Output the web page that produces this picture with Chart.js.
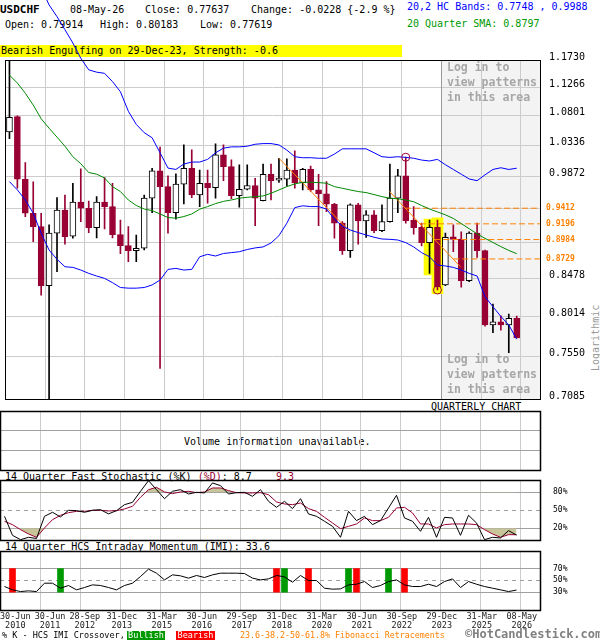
<!DOCTYPE html>
<html><head><meta charset="utf-8">
<script src="https://cdn.jsdelivr.net/npm/chart.js"></script>
<style>
html,body{margin:0;padding:0;background:#fff;}
body{width:600px;height:640px;position:relative;overflow:hidden;font-family:'DejaVu Sans Mono',monospace;font-size:10px;color:#000;}
.t{position:absolute;white-space:pre;line-height:10px;}
canvas{position:absolute;left:0;z-index:1;}
.top{z-index:3;}
</style></head><body>
<div class="t" style="left:0;top:4px;font-weight:bold;font-size:11px;line-height:11px">USDCHF</div>
<div class="t" style="left:70px;top:4.5px">08-May-26</div>
<div class="t" style="left:145px;top:4.5px">Close: 0.77637</div>
<div class="t" style="left:251px;top:4.5px">Change: -0.0228 {-2.9 %}</div>
<div class="t" style="left:5px;top:19.5px">Open: 0.79914</div>
<div class="t" style="left:100px;top:19.5px">High: 0.80183</div>
<div class="t" style="left:200px;top:19.5px">Low: 0.77619</div>
<div class="t" style="left:407px;top:1.5px;color:#0000ff">20,2 HC Bands: 0.7748 , 0.9988</div>
<div class="t" style="left:407px;top:18.5px;color:#009900">20 Quarter SMA: 0.8797</div>
<div class="t" style="left:0;top:45px;width:401px;height:12px;line-height:12px;background:#ffff00;padding-left:1px">Bearish Engulfing on 29-Dec-23, Strength: -0.6</div>
<div class="t" style="left:431px;top:401.5px">QUARTERLY CHART</div>
<div class="t" style="left:184px;top:436.5px">Volume information unavailable.</div>
<div class="t" style="left:5px;top:471.5px">14 Quarter Fast Stochastic (%K) <span style="color:#990033">(%D)</span>: 8.7    <span style="color:#990033">9.3</span></div>
<div class="t" style="left:5px;top:542px">14 Quarter HCS Intraday Momentum (IMI): 33.6</div>
<div class="t" style="left:563px;top:333px;width:66px;text-align:center;transform:rotate(-90deg);color:#999">Logarithmic</div>

<canvas id="cMain" width="600" height="412" style="top:0"></canvas>
<canvas id="cVol" width="600" height="64" style="top:408px"></canvas>
<canvas id="cSto" width="600" height="64" style="top:478px"></canvas>
<canvas id="cImi" width="600" height="92" style="top:548px"></canvas>

<div class="t top" style="left:447px;top:60px;font-weight:bold;font-size:11.5px;line-height:15px;color:#a6a6a6">Log in to
view patterns
in this area</div>
<div class="t top" style="left:447px;top:352px;font-weight:bold;font-size:11.5px;line-height:15px;color:#a6a6a6">Log in to
view patterns
in this area</div>
<div class="t top" style="left:2px;top:630.5px;font-size:8.5px;line-height:9px">% K - HCS IMI Crossover,</div>
<div class="t top" style="left:127px;top:630.5px;width:38px;height:9px;font-size:8.5px;line-height:9px;background:#009900;color:#fff;text-align:center">Bullish</div>
<div class="t top" style="left:176px;top:630.5px;width:39px;height:9px;font-size:8.5px;line-height:9px;background:#ff0000;color:#fff;text-align:center">Bearish</div>
<div class="t top" style="left:240px;top:630.5px;font-size:8.3px;line-height:9px;color:#ff8000">23.6-38.2-50-61.8% Fibonacci Retracements</div>
<div class="t top" style="left:465px;top:628px;font-size:12px;line-height:12px;font-weight:bold;color:#808080">&copy;HotCandlestick.com</div>

<script>
// ---------------- DATA ----------------
const opens = [1.0542, 1.0784, 0.9826, 0.9342, 0.9158, 0.8389, 0.9069, 0.9387, 0.9030, 0.9497,
 0.9412, 0.9145, 0.9497, 0.9435, 0.9050, 0.8903, 0.8837, 0.8869, 0.9553, 0.9948,
 0.9719, 0.9350, 0.9754, 0.9988, 0.9599, 0.9768, 0.9704, 1.0188, 1.0012, 0.9589,
 0.9681, 0.9735, 0.9517, 0.9899, 0.9813, 0.9827, 0.9962, 0.9771, 0.9973, 0.9671,
 0.9617, 0.9468, 0.9205, 0.8837, 0.9458, 0.9235, 0.9319, 0.9104, 0.9227, 0.9553,
 0.9874, 0.9249, 0.9150, 0.8943, 0.9150, 0.8398, 0.9020, 0.8987, 0.8452, 0.9069,
 0.8837, 0.7913, 0.7950, 0.7913, 0.79914];
const highs = [1.1730, 1.0795, 1.0071, 0.9787, 0.9342, 0.9181, 0.9561, 0.9599, 0.9768, 0.9978,
 0.9511, 0.9575, 0.9850, 0.9768, 0.9249, 0.9158, 0.9045, 0.9599, 0.9988, 1.0305,
 0.9874, 0.9905, 1.0340, 1.0263, 0.9962, 0.9962, 1.0355, 1.0340, 1.0112, 1.0038,
 1.0038, 0.9841, 1.0050, 1.0050, 1.0137, 1.0127, 1.0249, 0.9988, 1.0019, 0.9899,
 0.9791, 0.9482, 0.9227, 0.9472, 0.9482, 0.9378, 0.9378, 0.9458, 1.0050, 0.9973,
 1.0153, 0.9435, 0.9205, 0.9249, 0.9249, 0.9069, 0.9181, 0.9088, 0.9088, 0.9205,
 0.8845, 0.8164, 0.8020, 0.8043, 0.80183];
const lows = [1.0437, 0.9696, 0.9295, 0.8956, 0.8270, 0.7067, 0.8565, 0.8921, 0.9001, 0.9227,
 0.9077, 0.9007, 0.9126, 0.9007, 0.8797, 0.8694, 0.8694, 0.8845, 0.9350, 0.7420,
 0.9069, 0.9260, 0.9472, 0.9561, 0.9435, 0.9482, 0.9553, 0.9805, 0.9545, 0.9426,
 0.9671, 0.9171, 0.9514, 0.9528, 0.9778, 0.9728, 0.9696, 0.9671, 0.9648, 0.9171,
 0.9364, 0.9001, 0.8789, 0.8750, 0.8921, 0.9012, 0.9077, 0.9088, 0.9220, 0.9350,
 0.9205, 0.9057, 0.8899, 0.8544, 0.8335, 0.8390, 0.8823, 0.8370, 0.8439, 0.8750,
 0.7900, 0.7824, 0.7853, 0.7595, 0.77619];
const closes = [1.0774, 0.9826, 0.9342, 0.9158, 0.8389, 0.9069, 0.9387, 0.9023, 0.9497, 0.9412,
 0.9145, 0.9497, 0.9435, 0.9050, 0.8903, 0.8837, 0.8869, 0.9553, 0.9948, 0.9719,
 0.9350, 0.9754, 0.9988, 0.9599, 0.9768, 0.9704, 1.0188, 1.0012, 0.9589, 0.9681,
 0.9735, 0.9553, 0.9899, 0.9805, 0.9827, 0.9962, 0.9771, 0.9973, 0.9671, 0.9617,
 0.9468, 0.9205, 0.8837, 0.9458, 0.9235, 0.9319, 0.9104, 0.9227, 0.9553, 0.9874,
 0.9240, 0.9145, 0.8943, 0.9150, 0.8378, 0.9015, 0.8987, 0.8452, 0.9069, 0.8837,
 0.7913, 0.7950, 0.7913, 0.7991, 0.77637];
const upperBand = [null, null, null, null, 1.3057, 1.273, 1.251, 1.227, 1.203, 1.176,
 1.156, 1.152, 1.150, 1.136, 1.119, 1.087, 1.066, 1.053, 1.045, 1.022,
 0.999, 0.997, 1.005, 1.008, 1.008, 1.012, 1.022, 1.029, 1.031, 1.031,
 1.032, 1.035, 1.036, 1.036, 1.034, 1.026, 1.016, 1.0145, 1.0145, 1.0137,
 1.0137, 1.020, 1.028, 1.028, 1.028, 1.028, 1.022, 1.016, 1.015, 1.016,
 1.015, 1.0137, 1.011, 1.0096, 1.012, 1.004, 0.997, 0.990, 0.983, 0.9805,
 0.989, 0.997, 0.9995, 0.997, 0.9988];
const lowerBand = [0.9791, 0.9671, 0.9528, 0.9342, 0.9069, 0.8845, 0.8724, 0.8628, 0.8620, 0.8586,
 0.8544, 0.8510, 0.8481, 0.8427, 0.8366, 0.8358, 0.8358, 0.8366, 0.8398, 0.8459,
 0.8594, 0.8607, 0.8586, 0.8594, 0.8757, 0.8789, 0.8767, 0.8800, 0.8811, 0.8823,
 0.8852, 0.8873, 0.8886, 0.8938, 0.9036, 0.9205, 0.9420, 0.9446, 0.9435, 0.9435,
 0.9400, 0.9260, 0.9165, 0.9112, 0.9077, 0.9045, 0.9015, 0.8991, 0.8987, 0.8978,
 0.8943, 0.8886, 0.8811, 0.8757, 0.8650, 0.8638, 0.8620, 0.8586, 0.8544, 0.8510,
 0.8253, 0.8131, 0.8014, 0.7913, 0.7748];
const sma20 = [1.147, 1.1335, 1.1165, 1.097, 1.075, 1.060, 1.046, 1.032, 1.016, 1.0055,
 0.9925, 0.990, 0.9844, 0.9719, 0.9648, 0.9528, 0.9450, 0.9401, 0.9378, 0.9332,
 0.9282, 0.9274, 0.9296, 0.9332, 0.9398, 0.9435, 0.9477, 0.9508, 0.9528, 0.9553,
 0.9566, 0.9575, 0.9585, 0.9623, 0.9671, 0.9719, 0.9758, 0.9782, 0.9782, 0.9777,
 0.9768, 0.9719, 0.9695, 0.9671, 0.9648, 0.9633, 0.9605, 0.9575, 0.9553, 0.9545,
 0.9528, 0.9503, 0.9450, 0.9400, 0.9360, 0.9320, 0.9270, 0.9200, 0.9130, 0.9060,
 0.9000, 0.8945, 0.8890, 0.8840, 0.8797];
const stochK = [40, 8.3, 1, 5, 3, 40, 46.7, 38.9, 50, 49.4,
 46.7, 50, 51, 44, 49.4, 59.4, 63.3, 81.7, 99.4, 84.4,
 69.4, 81.7, 84.4, 77.2, 80, 78.9, 95.6, 91.1, 77.2, 79.4,
 80, 73.3, 84.4, 65, 55, 65, 52.8, 69.4, 43.9, 40,
 31.7, 23.3, 5, 48.3, 32.8, 40, 26.1, 32.8, 53.9, 75,
 37.2, 31.7, 15, 38.3, 5, 38.3, 37.2, 8.3, 41.7, 28.9,
 1.1, 5, 3.9, 16.1, 8.7];
const stochD = [31.7, 26, 17.8, 10.6, 5, 20.6, 34.4, 41.7, 46, 48.3,
 48.3, 50, 50, 48.9, 49.4, 52.2, 56.7, 71.7, 84.4, 88.3,
 80.6, 77.8, 80.6, 81.7, 79.4, 80.6, 87.2, 87.2, 82.8, 79.4,
 78.9, 78.9, 79.4, 76, 63.9, 60.6, 59.4, 62.2, 52.8, 48.3,
 38.3, 28.9, 19.4, 23.3, 27.2, 37.2, 32.8, 32.8, 38.3, 53.9,
 55, 45.6, 27.2, 27.2, 20.6, 26.1, 27.2, 27.2, 27.2, 26.1,
 17.8, 10.6, 5, 9.4, 9.3];
const imi = [39.6, 34, 31.1, 32.3, 31.1, 45.2, 45.2, 36.8, 41.3, 34,
 37.9, 42.4, 41.3, 37.9, 34, 41.3, 45.2, 56.5, 68.9, 62.1,
 50.8, 59.3, 57.6, 53.7, 58.2, 54.8, 59.3, 62.1, 62.1, 62.1,
 61.5, 53.7, 50.8, 52.5, 58.2, 55.9, 46.9, 58.2, 49.7, 49.7,
 36.8, 35.1, 35.6, 42.4, 43.5, 48, 37.9, 41.3, 48, 50.8,
 42.4, 39.6, 39.6, 43.5, 39.6, 48, 52.5, 37.9, 48, 43.5,
 39.6, 36.8, 34, 31.1, 33.6];
const bullishIdx = [7, 35, 43, 48];
const bearishIdx = [1, 34, 38, 44, 50];
const crossRange = [30, 70];
const fibLevels = [0.9412, 0.9196, 0.8984, 0.8729];
const fibFrom = [49.9, 51.8, 53.6, 56.0];
const trendLine1 = [[34, 1.0137], [42.95, 0.9088]];
const trendLine2 = [[47.95, 0.9648], [56.9, 0.8628]];
const patternIdx = [53, 54];
const patternLow = [0.8525, 0.8290];
const patternHigh = [0.9260, 0.9280];
const markerIdx = [50, 54];
const markerPrice = [1.0153, 0.8335];
const shadeFrom = 54.5;
const yTickValues = [1.1730, 1.1266, 1.0801, 1.0336, 0.9872, 0.9407, 0.8943, 0.8478, 0.8014, 0.7550, 0.7085];
const yTickLabels = ['1.1730', '1.1266', '1.0801', '1.0336', '0.9872', '', '', '0.8478', '0.8014', '0.7550', '0.7085'];
const xLabelIdx = [0, 4, 9, 14, 19, 24, 29, 34, 39, 44, 49, 54, 59, 64];
const xLabelTop = ['30-Jun', '30-Jun', '28-Sep', '31-Dec', '31-Mar', '30-Jun', '29-Sep', '31-Dec', '31-Mar', '30-Jun', '30-Sep', '29-Dec', '31-Mar', '08-May'];
const xLabelYear = ['2010', '2011', '2012', '2013', '2015', '2016', '2017', '2018', '2020', '2021', '2022', '2023', '2025', '2026'];

// ---------------- SETUP ----------------
const FAM = "'DejaVu Sans Mono', monospace";
Chart.defaults.font.family = FAM;
const RED = '#990033', KHAKI = '#c9c59b', ORANGE = '#ff8000', GRID = '#cccccc', DARKGRID = '#a0a0a0';
const xMin = -0.5625, xMax = 66.9375;
const gridTicks = xLabelIdx.slice(1).map(i => i + 0.5);
const pts = arr => arr.map((v, i) => ({x: i, y: v})).filter(p => p.y !== null);

function xScale() {
  return {
    type: 'linear', min: xMin, max: xMax, offset: false,
    afterBuildTicks: s => { s.ticks = gridTicks.map(v => ({value: v})); },
    afterFit: s => { s.height = 0; s.paddingLeft = 0; s.paddingRight = 0; },
    ticks: {display: false},
    grid: {color: GRID, drawTicks: false, offset: false},
    border: {display: false}
  };
}
function frame(lw) {
  return {id: 'frame', afterDraw(c) {
    const a = c.chartArea, ctx = c.ctx;
    ctx.save(); ctx.strokeStyle = '#000'; ctx.lineWidth = lw;
    ctx.strokeRect(Math.round(a.left) + 0.5, Math.round(a.top) + 0.5, Math.round(a.right) - Math.round(a.left), Math.round(a.bottom) - Math.round(a.top));
    ctx.restore();
  }};
}
function baseOpts(pad) {
  return {responsive: false, animation: false, events: [],
    plugins: {legend: {display: false}, tooltip: {enabled: false}},
    layout: {padding: pad}};
}

// ---------------- MAIN ----------------
const shade = {id: 'shade',
  beforeDraw(c) {
    const a = c.chartArea, ctx = c.ctx, x = c.scales.x.getPixelForValue(shadeFrom);
    ctx.save(); ctx.fillStyle = '#f3f3f3'; ctx.fillRect(x, a.top, a.right - x, a.bottom - a.top); ctx.restore();
  },
  beforeDatasetsDraw(c) {
    const a = c.chartArea, ctx = c.ctx, x = Math.round(c.scales.x.getPixelForValue(shadeFrom)) + 0.5;
    ctx.save(); ctx.strokeStyle = '#999'; ctx.lineWidth = 1;
    ctx.beginPath(); ctx.moveTo(x, a.top); ctx.lineTo(x, a.bottom); ctx.stroke(); ctx.restore();
  }};
const fibText = {id: 'fibText', afterDraw(c) {
  const ctx = c.ctx, a = c.chartArea, y = c.scales.y;
  ctx.save(); ctx.font = 'bold 8px ' + FAM; ctx.fillStyle = ORANGE; ctx.textBaseline = 'middle'; ctx.textAlign = 'left';
  fibLevels.forEach(l => ctx.fillText(l.toFixed(4), a.right + 6, y.getPixelForValue(l)));
  ctx.restore();
}};
const up = closes.map((c, i) => c >= opens[i]);
const mainDatasets = [
  {type: 'bar', data: patternIdx.map((i, k) => ({x: i, y: [patternLow[k], patternHigh[k]]})),
   backgroundColor: '#ffff00', barThickness: 11, grouped: false, order: 10},
  {type: 'bar', data: lows.map((l, i) => ({x: i, y: [l, highs[i]]})),
   backgroundColor: up.map(u => u ? '#000' : RED), barThickness: 1, grouped: false, order: 9},
  {type: 'bar', data: opens.map((o, i) => ({x: i, y: [o, closes[i]]})),
   backgroundColor: up.map(u => u ? '#fff' : RED), borderColor: up.map(u => u ? '#000' : RED),
   borderWidth: 1, borderSkipped: false, barThickness: 6, minBarLength: 2, grouped: false, order: 8},
  ...[trendLine1, trendLine2].map(t => ({type: 'line', data: t.map(p => ({x: p[0], y: p[1]})),
   borderColor: ORANGE, borderWidth: 1, pointRadius: 0, order: 6})),
  ...fibLevels.map((l, k) => ({type: 'line', data: [{x: fibFrom[k], y: l}, {x: xMax, y: l}],
   borderColor: ORANGE, borderWidth: 1, borderDash: [6, 3], pointRadius: 0, order: 5})),
  {type: 'line', data: pts(upperBand), borderColor: '#0000ff', borderWidth: 1, pointRadius: 0, order: 3,
   clip: {left: 0, right: 0, bottom: 0, top: false}},
  {type: 'line', data: pts(lowerBand), borderColor: '#0000ff', borderWidth: 1, pointRadius: 0, order: 3},
  {type: 'line', data: pts(sma20), borderColor: '#008800', borderWidth: 1, pointRadius: 0, order: 2},
  {type: 'line', data: markerIdx.map((i, k) => ({x: i, y: markerPrice[k]})), showLine: false,
   pointRadius: 4, pointBorderColor: RED, pointBackgroundColor: 'rgba(0,0,0,0)', pointBorderWidth: 1, order: 1}
];
const mainOpts = baseOpts({top: 60, left: 0, right: 0, bottom: 12.6});
mainOpts.scales = {
  x: xScale(),
  y: {type: 'logarithmic', position: 'right', min: yTickValues[yTickValues.length - 1], max: yTickValues[0], bounds: 'data',
    afterBuildTicks: s => { s.ticks = yTickValues.map(v => ({value: v})); },
    afterFit: s => { s.width = 60; s.paddingTop = 0; s.paddingBottom = 0; },
    ticks: {callback: (v, i) => yTickLabels[i], color: '#000', font: {size: 10, family: FAM}, padding: 9,
      labelOffset: -3, autoSkip: false, maxRotation: 0, major: {enabled: false}},
    grid: {color: GRID, drawTicks: false},
    border: {display: false}}
};
new Chart(document.getElementById('cMain'), {type: 'line', data: {datasets: mainDatasets}, options: mainOpts,
  plugins: [shade, fibText, frame(1)]});

// ---------------- VOLUME ----------------
const volOpts = baseOpts({top: 2.7, left: 0, right: 0, bottom: 2});
volOpts.scales = {
  x: xScale(),
  y: {type: 'linear', position: 'right', min: 0, max: 3,
    afterBuildTicks: s => { s.ticks = [1, 2].map(v => ({value: v})); },
    afterFit: s => { s.width = 60; s.paddingTop = 0; s.paddingBottom = 0; },
    ticks: {display: false}, grid: {color: DARKGRID, drawTicks: false}, border: {display: false}}
};
new Chart(document.getElementById('cVol'), {type: 'line', data: {datasets: []}, options: volOpts, plugins: [frame(1.5)]});

// ---------------- STOCHASTIC ----------------
function pctAxis(vals) {
  return {type: 'linear', position: 'right', min: 0, max: 100,
    afterBuildTicks: s => { s.ticks = vals.map(v => ({value: v})); },
    afterFit: s => { s.width = 60; s.paddingTop = 0; s.paddingBottom = 0; },
    ticks: {callback: v => v + '%', color: '#000', font: {size: 8, family: FAM}, padding: 13, autoSkip: false},
    grid: {color: DARKGRID, drawTicks: false},
    border: {display: false, dash: ctx => (ctx.tick && ctx.tick.value === 50) ? [4, 4] : []}};
}
const stoOpts = baseOpts({top: 2.3, left: 0, right: 0, bottom: 1.7});
stoOpts.scales = {x: xScale(), y: pctAxis([20, 50, 80])};
new Chart(document.getElementById('cSto'), {type: 'line', data: {datasets: [
  {data: pts(stochD), borderColor: 'rgba(0,0,0,0)', borderWidth: 0, pointRadius: 0,
   fill: {target: {value: 20}, above: 'rgba(0,0,0,0)', below: KHAKI}, order: 4},
  {data: pts(stochD), borderColor: RED, borderWidth: 1, pointRadius: 0,
   fill: {target: {value: 80}, above: KHAKI, below: 'rgba(0,0,0,0)'}, order: 3},
  {data: pts(stochK), borderColor: '#000', borderWidth: 1, pointRadius: 0, fill: false, order: 1}
]}, options: stoOpts, plugins: [frame(1.5)]});

// ---------------- IMI ----------------
const xLab = {id: 'xLab', afterDraw(c) {
  const ctx = c.ctx, xs = c.scales.x, a = c.chartArea;
  ctx.save(); ctx.font = '8.5px ' + FAM; ctx.fillStyle = '#222'; ctx.textBaseline = 'middle'; ctx.textAlign = 'center';
  let prevRight = -Infinity;
  xLabelIdx.forEach((idx, k) => {
    const w = Math.max(ctx.measureText(xLabelTop[k]).width, ctx.measureText(xLabelYear[k]).width);
    let left = xs.getPixelForValue(idx + 0.5) + 1.3 - w / 2;
    if (left < 0) left = 0;
    if (left < prevRight + 4) left = prevRight + 4;
    const cx = left + w / 2;
    ctx.fillText(xLabelTop[k], cx, a.bottom + 6.5);
    ctx.fillText(xLabelYear[k], cx, a.bottom + 15.5);
    prevRight = left + w;
  });
  ctx.restore();
}};
const imiOpts = baseOpts({top: 2.7, left: 0, right: 0, bottom: 30});
imiOpts.scales = {x: xScale(), y: pctAxis([30, 50, 70])};
new Chart(document.getElementById('cImi'), {type: 'line', data: {datasets: [
  {type: 'bar', data: bullishIdx.map(i => ({x: i, y: crossRange})), backgroundColor: '#009900', barThickness: 6, grouped: false, order: 3},
  {type: 'bar', data: bearishIdx.map(i => ({x: i, y: crossRange})), backgroundColor: '#ff0000', barThickness: 6, grouped: false, order: 3},
  {data: pts(imi), borderColor: '#000', borderWidth: 1, pointRadius: 0, fill: false, order: 1}
]}, options: imiOpts, plugins: [xLab, frame(1.5)]});
</script>
</body></html>
